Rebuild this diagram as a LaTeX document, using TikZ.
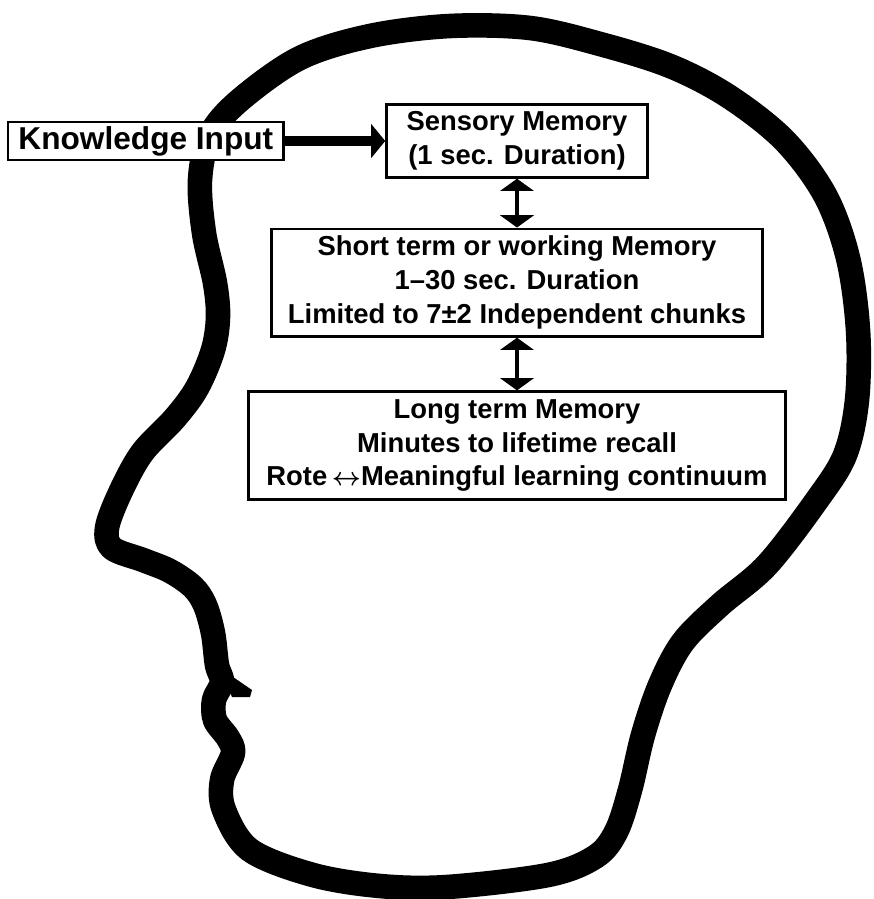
\documentclass[tikz,border=0pt]{standalone}
\usepackage{fontspec}
\setmainfont{Liberation Sans}
\usetikzlibrary{arrows.meta,positioning}
\tikzset{
  memory/.style={draw,line width=1.5pt,fill=white,align=center,inner sep=2pt,font=\bfseries\fontsize{15.6}{19.3}\selectfont},
  inbox/.style={draw,line width=1.5pt,fill=white,inner sep=2pt,font=\bfseries\fontsize{18}{20}\selectfont},
  feed/.style={line width=5.5pt,-{Triangle[width=19pt,length=8pt]}},
  link/.style={line width=2.8pt,{Triangle[width=19pt,length=7pt]}-{Triangle[width=19pt,length=7pt]}},
  outline/.style={line width=14pt,line join=round},
}

\begin{document}
\begin{tikzpicture}[x=0.02cm,y=-0.02cm]
\useasboundingbox (0,0) rectangle (874,899);

% head profile, facing left
\draw[outline] plot[smooth cycle,tension=0.55] coordinates {
  (240,100) (300,58) (370,36) (450,26) (530,28) (600,44) (670,66)
  (728,96) (784,140) (825,195) (848,258) (858,330) (857,400) (845,455)
  (817,500) (767,565) (720,605) (683,642) (660,685) (643,735) (630,790)
  (616,832) (595,857) (548,875) (447,887) (380,886) (313,875) (250,850)
  (224,810) (222,780) (233,753) (228,738) (215,720) (214,700) (222,682)
  (217,665) (213,633) (205,605) (193,587) (170,571) (143,560) (112,548)
  (107,528) (120,493) (142,453) (175,418) (197,388) (213,350) (218,317)
  (215,283) (204,233) (200,180) (210,135)};
% corner of the mouth
\fill (220,668) -- (252,690) -- (250,697) -- (232,697) -- cycle;

% memory stores
\node[memory,minimum width=148.5pt,minimum height=41.4pt] (sense) at (517,141)
  {Sensory Memory\\(1 sec. Duration)};
\node[memory,minimum width=279.5pt,minimum height=61.2pt,below=27.8pt of sense] (short)
  {Short term or working Memory\\1–30 sec. Duration\\Limited to 7±2 Independent chunks};
\node[memory,minimum width=305.6pt,minimum height=61.2pt,below=30pt of short] (long)
  {Long term Memory\\Minutes to lifetime recall\\Rote\,{\boldmath$\leftrightarrow$}Meaningful learning continuum};
\node[inbox,minimum width=157pt,minimum height=21.5pt,left=57pt of sense] (input) {Knowledge Input};

\draw[feed] (input) -- (sense);
\draw[link] (sense) -- (short);
\draw[link] (short) -- (long);
\end{tikzpicture}
\end{document}
